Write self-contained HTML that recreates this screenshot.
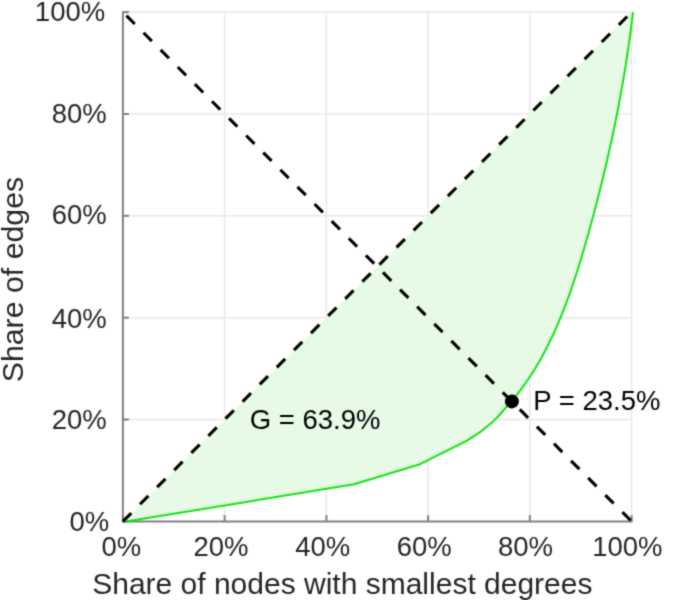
<!DOCTYPE html>
<html><head><meta charset="utf-8"><style>
html,body{margin:0;padding:0;background:#fff;width:674px;height:600px;overflow:hidden}
svg{display:block}
text{font-family:"Liberation Sans",sans-serif}
</style></head><body>
<svg width="674" height="600" viewBox="0 0 674 600">
<defs><filter id="b" x="0" y="0" width="674" height="600" filterUnits="userSpaceOnUse" color-interpolation-filters="sRGB"><feConvolveMatrix order="3" kernelMatrix="0.0277 0.1110 0.0277 0.1110 0.4452 0.1110 0.0277 0.1110 0.0277" divisor="1" edgeMode="duplicate"/></filter></defs>
<g filter="url(#b)">
<rect width="674" height="600" fill="#fff"/>
<g stroke="#e8e8e8" stroke-width="1.5">
<line x1="224.64" y1="521.40" x2="224.64" y2="12.10"/>
<line x1="326.38" y1="521.40" x2="326.38" y2="12.10"/>
<line x1="428.12" y1="521.40" x2="428.12" y2="12.10"/>
<line x1="529.86" y1="521.40" x2="529.86" y2="12.10"/>
<line x1="631.60" y1="521.40" x2="631.60" y2="12.10"/>
<line x1="122.90" y1="419.54" x2="631.60" y2="419.54"/>
<line x1="122.90" y1="317.68" x2="631.60" y2="317.68"/>
<line x1="122.90" y1="215.82" x2="631.60" y2="215.82"/>
<line x1="122.90" y1="113.96" x2="631.60" y2="113.96"/>
<line x1="122.90" y1="12.10" x2="631.60" y2="12.10"/>
</g>
<polygon points="122.90,522.10 354.00,484.30 420.00,464.20 467.00,440.70 480.00,432.20 492.00,422.40 498.00,416.50 511.91,400.80 515.20,396.80 518.37,392.80 521.41,388.80 524.34,384.80 527.15,380.80 529.86,376.80 532.47,372.80 534.98,368.80 537.39,364.80 539.72,360.80 541.96,356.80 544.12,352.80 546.21,348.80 548.23,344.80 550.19,340.80 552.09,336.80 553.93,332.80 555.72,328.80 557.46,324.80 559.16,320.80 560.82,316.80 562.44,312.80 564.02,308.80 565.56,304.80 567.07,300.80 568.54,296.80 569.98,292.80 571.39,288.80 572.76,284.80 574.11,280.80 575.43,276.80 576.73,272.80 578.00,268.80 579.25,264.80 580.48,260.80 581.68,256.80 582.87,252.80 584.05,248.80 585.20,244.80 586.35,240.80 587.48,236.80 588.60,232.80 589.71,228.80 590.81,224.80 591.90,220.80 592.98,216.80 594.05,212.80 595.11,208.80 596.16,204.80 597.20,200.80 598.22,196.80 599.24,192.80 600.25,188.80 601.24,184.80 602.23,180.80 603.20,176.80 604.16,172.80 605.11,168.80 606.05,164.80 606.98,160.80 607.90,156.80 608.80,152.80 609.70,148.80 610.58,144.80 611.46,140.80 612.32,136.80 613.16,132.80 614.00,128.80 614.83,124.80 615.64,120.80 616.44,116.80 617.23,112.80 618.01,108.80 618.78,104.80 619.53,100.80 620.27,96.80 621.00,92.80 621.72,88.80 622.42,84.80 623.11,80.80 623.79,76.80 624.46,72.80 625.12,68.80 625.76,64.80 626.39,60.80 627.00,56.80 627.61,52.80 628.20,48.80 628.78,44.80 629.34,40.80 629.89,36.80 630.43,32.80 630.96,28.80 631.47,24.80 631.97,20.80 632.45,16.80 632.92,12.80 633.00,12.10 631.60,12.10" fill="#e6fae6" stroke="none"/>
<g stroke="#808080" stroke-width="2" fill="none">
<line x1="122.9" y1="11.2" x2="122.9" y2="522.3"/>
<line x1="122.0" y1="521.4" x2="632.5" y2="521.4"/>
<line x1="122.90" y1="521.40" x2="122.90" y2="515.10"/>
<line x1="122.90" y1="521.40" x2="128.90" y2="521.40"/>
<line x1="224.64" y1="521.40" x2="224.64" y2="515.10"/>
<line x1="122.90" y1="419.54" x2="128.90" y2="419.54"/>
<line x1="326.38" y1="521.40" x2="326.38" y2="515.10"/>
<line x1="122.90" y1="317.68" x2="128.90" y2="317.68"/>
<line x1="428.12" y1="521.40" x2="428.12" y2="515.10"/>
<line x1="122.90" y1="215.82" x2="128.90" y2="215.82"/>
<line x1="529.86" y1="521.40" x2="529.86" y2="515.10"/>
<line x1="122.90" y1="113.96" x2="128.90" y2="113.96"/>
<line x1="631.60" y1="521.40" x2="631.60" y2="515.10"/>
<line x1="122.90" y1="12.10" x2="128.90" y2="12.10"/>
</g>
<polyline points="122.90,522.10 354.00,484.30 420.00,464.20 467.00,440.70 480.00,432.20 492.00,422.40 498.00,416.50 511.91,400.80 515.20,396.80 518.37,392.80 521.41,388.80 524.34,384.80 527.15,380.80 529.86,376.80 532.47,372.80 534.98,368.80 537.39,364.80 539.72,360.80 541.96,356.80 544.12,352.80 546.21,348.80 548.23,344.80 550.19,340.80 552.09,336.80 553.93,332.80 555.72,328.80 557.46,324.80 559.16,320.80 560.82,316.80 562.44,312.80 564.02,308.80 565.56,304.80 567.07,300.80 568.54,296.80 569.98,292.80 571.39,288.80 572.76,284.80 574.11,280.80 575.43,276.80 576.73,272.80 578.00,268.80 579.25,264.80 580.48,260.80 581.68,256.80 582.87,252.80 584.05,248.80 585.20,244.80 586.35,240.80 587.48,236.80 588.60,232.80 589.71,228.80 590.81,224.80 591.90,220.80 592.98,216.80 594.05,212.80 595.11,208.80 596.16,204.80 597.20,200.80 598.22,196.80 599.24,192.80 600.25,188.80 601.24,184.80 602.23,180.80 603.20,176.80 604.16,172.80 605.11,168.80 606.05,164.80 606.98,160.80 607.90,156.80 608.80,152.80 609.70,148.80 610.58,144.80 611.46,140.80 612.32,136.80 613.16,132.80 614.00,128.80 614.83,124.80 615.64,120.80 616.44,116.80 617.23,112.80 618.01,108.80 618.78,104.80 619.53,100.80 620.27,96.80 621.00,92.80 621.72,88.80 622.42,84.80 623.11,80.80 623.79,76.80 624.46,72.80 625.12,68.80 625.76,64.80 626.39,60.80 627.00,56.80 627.61,52.80 628.20,48.80 628.78,44.80 629.34,40.80 629.89,36.80 630.43,32.80 630.96,28.80 631.47,24.80 631.97,20.80 632.45,16.80 632.92,12.80 633.00,12.10" fill="none" stroke="#12e412" stroke-width="2" stroke-linejoin="round"/>
<g stroke="#000" stroke-width="3.1" fill="none" stroke-dasharray="11.8 12.4" stroke-linecap="butt">
<line x1="122.9" y1="521.4" x2="631.6" y2="12.1" stroke-dashoffset="0"/>
<line x1="122.9" y1="12.1" x2="631.6" y2="521.4" stroke-dashoffset="-5.0"/>
</g>
<circle cx="511.9" cy="401.4" r="7" fill="#000"/>
<g fill="#262626" font-size="27.5">
<text x="109.3" y="531.0" text-anchor="end">0%</text>
<text x="106.8" y="429.2" text-anchor="end">20%</text>
<text x="106.8" y="327.6" text-anchor="end">40%</text>
<text x="106.8" y="224.4" text-anchor="end">60%</text>
<text x="106.8" y="122.7" text-anchor="end">80%</text>
<text x="105.2" y="21.3" text-anchor="end">100%</text>
<text x="121.4" y="555.6" text-anchor="middle">0%</text>
<text x="221.0" y="555.6" text-anchor="middle">20%</text>
<text x="322.7" y="555.6" text-anchor="middle">40%</text>
<text x="424.2" y="555.6" text-anchor="middle">60%</text>
<text x="525.4" y="555.6" text-anchor="middle">80%</text>
<text x="627.3" y="555.6" text-anchor="middle">100%</text>
</g>
<g fill="#000" font-size="27.5">
<text x="249.8" y="429.1">G = 63.9%</text>
<text x="533.3" y="410.0">P = 23.5%</text>
</g>
<g fill="#262626" font-size="30">
<text x="92.2" y="593.5">Share of nodes with smallest degrees</text>
<text transform="translate(23.3,382.3) rotate(-90)" font-size="30.3">Share of edges</text>
</g>
</g>
</svg>
</body></html>
